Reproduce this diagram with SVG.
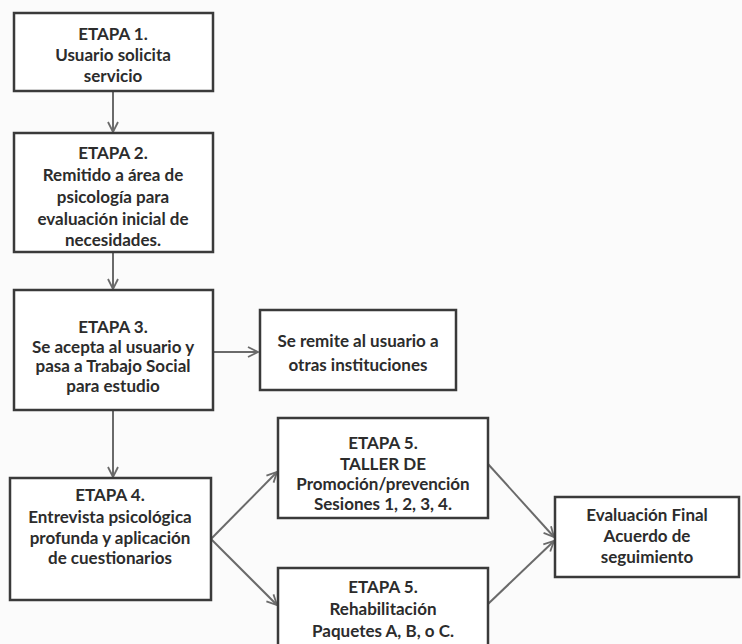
<svg xmlns="http://www.w3.org/2000/svg" width="742" height="644" viewBox="0 0 742 644">
<style>
.box{fill:#ffffff;stroke:#3a3a3a;stroke-width:2.5}
.t{font-family:Lato,"Open Sans","Liberation Sans",sans-serif;font-weight:bold;font-size:17px;fill:#2c2c2c;text-anchor:middle;dominant-baseline:central}
.c{fill:none;stroke:#6a6a6a;stroke-width:2}
</style>
<defs>
<marker id="ah" viewBox="0 0 12 12" refX="11" refY="6" markerWidth="12" markerHeight="12" markerUnits="userSpaceOnUse" orient="auto">
<path d="M1,1 L11,6 L1,11" fill="none" stroke="#6a6a6a" stroke-width="1.8"/>
</marker>
</defs>
<rect width="742" height="644" fill="#fbfbfb"/>
<g id="connectors">
<line class="c" x1="113" y1="92" x2="113" y2="132" marker-end="url(#ah)"/>
<line class="c" x1="113" y1="253" x2="113" y2="289" marker-end="url(#ah)"/>
<line class="c" x1="214" y1="352" x2="258" y2="352" marker-end="url(#ah)"/>
<line class="c" x1="113" y1="411" x2="113" y2="477" marker-end="url(#ah)"/>
<line class="c" x1="211" y1="539" x2="277" y2="472" marker-end="url(#ah)"/>
<line class="c" x1="211" y1="539" x2="277" y2="605" marker-end="url(#ah)"/>
<line class="c" x1="488" y1="464" x2="554" y2="537" marker-end="url(#ah)"/>
<line class="c" x1="488" y1="604" x2="554" y2="541" marker-end="url(#ah)"/>
</g>
<g id="etapa1">
<rect class="box" x="14" y="13" width="199" height="78"/>
<text class="t" x="113" y="33">ETAPA 1.</text>
<text class="t" x="113" y="54">Usuario solicita</text>
<text class="t" x="113" y="75">servicio</text>
</g>
<g id="etapa2">
<rect class="box" x="14" y="133" width="199" height="119"/>
<text class="t" x="113" y="152">ETAPA 2.</text>
<text class="t" x="113" y="174">Remitido a área de</text>
<text class="t" x="113" y="196">psicología para</text>
<text class="t" x="113" y="218">evaluación inicial de</text>
<text class="t" x="113" y="239">necesidades.</text>
</g>
<g id="etapa3">
<rect class="box" x="14" y="290" width="199" height="120"/>
<text class="t" x="113" y="326">ETAPA 3.</text>
<text class="t" x="113" y="346">Se acepta al usuario y</text>
<text class="t" x="113" y="365">pasa a Trabajo Social</text>
<text class="t" x="113" y="385">para estudio</text>
</g>
<g id="remite">
<rect class="box" x="260" y="310" width="196" height="80"/>
<text class="t" x="358" y="340">Se remite al usuario a</text>
<text class="t" x="358" y="364">otras instituciones</text>
</g>
<g id="etapa4">
<rect class="box" x="10" y="478" width="201" height="122"/>
<text class="t" x="110" y="494">ETAPA 4.</text>
<text class="t" x="110" y="516">Entrevista  psicológica</text>
<text class="t" x="110" y="537">profunda y aplicación</text>
<text class="t" x="110" y="557">de cuestionarios</text>
</g>
<g id="etapa5a">
<rect class="box" x="278" y="418" width="210" height="100"/>
<text class="t" x="383" y="442">ETAPA 5.</text>
<text class="t" x="383" y="463">TALLER DE</text>
<text class="t" x="383" y="483">Promoción/prevención</text>
<text class="t" x="383" y="503">Sesiones 1, 2, 3, 4.</text>
</g>
<g id="etapa5b">
<rect class="box" x="278" y="568" width="210" height="90"/>
<text class="t" x="383" y="586">ETAPA 5.</text>
<text class="t" x="383" y="608">Rehabilitación</text>
<text class="t" x="383" y="630">Paquetes A, B, o C.</text>
</g>
<g id="final">
<rect class="box" x="555" y="497" width="184" height="80"/>
<text class="t" x="647" y="514">Evaluación Final</text>
<text class="t" x="647" y="535">Acuerdo de</text>
<text class="t" x="647" y="556">seguimiento</text>
</g>
</svg>
